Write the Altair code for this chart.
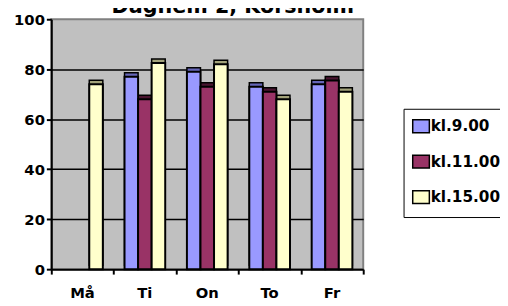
import altair as alt
import pandas as pd

title_text = ["Daghem 2, Korsholm"]
days = ["Må", "Ti", "On", "To", "Fr"]
series = ["kl.9.00", "kl.11.00", "kl.15.00"]
kl_9 = [None, 77, 79, 73, 74]
kl_11 = [None, 68, 73, 71, 75.5]
kl_15 = [74, 82.5, 82, 68, 71]
y_ticks = [0, 20, 40, 60, 80, 100]
x_bounds = [0, 1, 2, 3, 4, 5]
colors = ["#9999FF", "#993366", "#FFFFCC"]
side_colors = ["#6666B8", "#4A1530", "#A3A37A"]

rows = []
for s, vals in zip(series, [kl_9, kl_11, kl_15]):
    for i, (d, v) in enumerate(zip(days, vals)):
        if v is not None:
            rows.append({"day": d, "series": s, "value": v, "pos": i})
df = pd.DataFrame(rows)

FONT = "DejaVu Sans"

def x_enc(show_axis):
    ax = alt.Axis(title=None, ticks=False, labelFont=FONT, labelFontWeight="bold",
                  labelFontSize=15, labelColor="black", labelPadding=17, labelAngle=0,
                  domainColor="black", domainWidth=2) if show_axis else None
    return alt.X("day:N", sort=days, scale=alt.Scale(paddingInner=0, paddingOuter=0), axis=ax)

xoff = alt.XOffset("series:N", sort=series, scale=alt.Scale(paddingInner=0, paddingOuter=0.8))

y_enc = alt.Y(
    "value:Q",
    scale=alt.Scale(domain=[0, 100], nice=False),
    axis=alt.Axis(
        title=None, values=y_ticks, labelFont=FONT, labelFontWeight="bold", labelFontSize=15,
        labelColor="black", labelPadding=2, tickSize=5, tickColor="black", tickWidth=2,
        domainColor="black", domainWidth=2, grid=True,
        gridColor=alt.condition("datum.value == 100 || datum.value == 0", alt.value("transparent"), alt.value("black")),
        gridWidth=1.5,
    ),
)

side = alt.Chart(df).mark_bar(xOffset=4, yOffset=-4, stroke="black", strokeWidth=1.5).encode(
    x=x_enc(False), xOffset=xoff, y=y_enc,
    color=alt.Color("series:N", sort=series, scale=alt.Scale(domain=series, range=side_colors), legend=None),
)

front = alt.Chart(df).mark_bar(stroke="black", strokeWidth=2).encode(
    x=x_enc(True), xOffset=xoff, y=y_enc,
    color=alt.Color("series:N", sort=series, scale=alt.Scale(domain=series, range=colors),
                    legend=alt.Legend(title=None)),
)

ticks = alt.Chart(df).mark_point(opacity=0).encode(
    x=alt.X("pos:Q", scale=alt.Scale(domain=[0, 5], nice=False),
            axis=alt.Axis(title=None, values=x_bounds, labels=False, grid=False, domain=False,
                          tickSize=5, tickColor="black", tickWidth=2, orient="bottom")),
)

title = alt.Chart(pd.DataFrame({"t": title_text})).mark_text(
    font=FONT, fontSize=21, fontWeight="bold", color="black", align="center", baseline="alphabetic"
).encode(text="t:N", x=alt.value(184.5), y=alt.value(-6.5))

chart = alt.layer(side, front, ticks, title).resolve_scale(
    x="independent", color="independent"
).properties(
    width=317, height=254,
    background="white",
    padding={"left": 44, "top": 9, "right": 139, "bottom": 35},
    autosize=alt.AutoSizeParams(type="none"),
).configure_view(
    fill="#C0C0C0", stroke="#808080", strokeWidth=2,
).configure_legend(
    orient="none", legendX=358, legendY=91, padding=10, rowPadding=16,
    strokeColor="black", fillColor="white", cornerRadius=0,
    symbolType="M-1.3,-1L1.3,-1L1.3,1L-1.3,1Z", symbolSize=169,
    symbolStrokeColor="black", symbolStrokeWidth=1.5,
    labelFont=FONT, labelFontSize=15.5, labelFontWeight="bold", labelColor="black", labelOffset=2,
)

chart.save("out.html", embed_options={"renderer": "svg", "actions": False})
